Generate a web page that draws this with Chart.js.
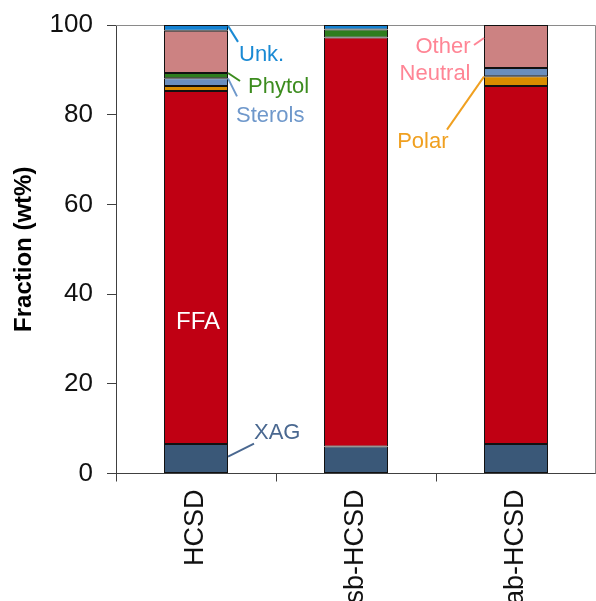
<!DOCTYPE html>
<html>
<head>
<meta charset="utf-8">
<script src="https://cdn.jsdelivr.net/npm/chart.js@4.4.1/dist/chart.umd.min.js"></script>
<style>
html, body { margin: 0; padding: 0; background: #fff; }
#wrap { width: 596px; height: 601px; }
</style>
</head>
<body>
<div id="wrap"><canvas id="fractionChart" width="596" height="601"></canvas></div>
<script>
const categories = ['HCSD', 'sb-HCSD', 'ab-HCSD'];
const xag = [6.6, 6.0, 6.6];
const ffa = [78.7, 91.2, 79.8];
const polar = [1.1, 0, 2.2];
const sterols = [1.7, 0, 1.8];
const phytol = [1.2, 1.8, 0];
const otherNeutral = [9.4, 0, 9.6];
const unknown = [1.3, 1.0, 0];
const yTicks = [0, 20, 40, 60, 80, 100];

// text callouts: attached to a bar edge (side -1 left, 0 centre, 1 right) at a value,
// lead = leader line offset in px, at = text offset from the line end in px
const callouts = [
    { text: ['Unk.'], color: '#1a8ad4', bar: 0, side: 1, value: 99.8, lead: [10, 16], at: [1, 19], align: 'left', size: 22 },
    { text: ['Phytol'], color: '#3c8c1e', bar: 0, side: 1, value: 89.3, lead: [12, 8], at: [8, 12.5], align: 'left', size: 22 },
    { text: ['Sterols'], color: '#6f98cb', bar: 0, side: 1, value: 88.1, lead: [9, 18], at: [-1, 25.5], align: 'left', size: 22 },
    { text: ['Other', 'Neutral'], color: '#ff8595', bar: 2, side: -1, value: 97.1, lead: [-10, 7], at: [-3.5, 8], align: 'right', size: 22 },
    { text: ['Polar'], color: '#f0a020', bar: 2, side: -1, value: 88.5, lead: [-37, 53], at: [1.5, 18], align: 'right', size: 22 },
    { text: ['XAG'], color: '#4a6890', bar: 0, side: 1, value: 3.75, lead: [26, -13], at: [0, -5], align: 'left', size: 22 },
    { text: ['FFA'], color: '#ffffff', bar: 0, side: 0, value: 32.2, lead: null, at: [2, 0], align: 'center', size: 24 }
];

const calloutPlugin = {
    id: 'callouts',
    afterDatasetsDraw(chart) {
        const ctx = chart.ctx;
        const yScale = chart.scales.y;
        const bars = chart.getDatasetMeta(0).data;
        ctx.save();
        ctx.textBaseline = 'alphabetic';
        callouts.forEach(c => {
            const bar = bars[c.bar];
            let x = bar.x + c.side * bar.width / 2;
            let y = yScale.getPixelForValue(c.value);
            if (c.lead) {
                ctx.strokeStyle = c.color;
                ctx.lineWidth = 2;
                ctx.beginPath();
                ctx.moveTo(x, y);
                x += c.lead[0];
                y += c.lead[1];
                ctx.lineTo(x, y);
                ctx.stroke();
            }
            ctx.font = c.size + 'px "Liberation Sans", Arial, sans-serif';
            ctx.fillStyle = c.color;
            ctx.textAlign = c.align;
            c.text.forEach((line, i) => ctx.fillText(line, x + c.at[0], y + c.at[1] + i * 27));
        });
        ctx.restore();
    }
};

const framePlugin = {
    id: 'frame',
    beforeDatasetsDraw(chart) {
        const { ctx, chartArea: a } = chart;
        ctx.save();
        ctx.strokeStyle = '#8a8a8a';
        ctx.lineWidth = 1;
        ctx.beginPath();
        ctx.moveTo(a.left, a.top + 0.5);
        ctx.lineTo(a.right - 0.5, a.top + 0.5);
        ctx.lineTo(a.right - 0.5, a.bottom);
        ctx.stroke();
        ctx.restore();
    }
};

function series(label, data, color) {
    return {
        label: label,
        data: data,
        backgroundColor: color,
        borderColor: '#111111',
        borderWidth: 1,
        borderSkipped: false,
        barPercentage: 0.4,
        categoryPercentage: 1.0
    };
}

Chart.defaults.font.family = '"Liberation Sans", Arial, sans-serif';

new Chart(document.getElementById('fractionChart').getContext('2d'), {
    type: 'bar',
    data: {
        labels: categories,
        datasets: [
            series('XAG', xag, '#3a5878'),
            series('FFA', ffa, '#c00013'),
            series('Polar', polar, '#d98c00'),
            series('Sterols', sterols, '#6a8ebe'),
            series('Phytol', phytol, '#2e7d1e'),
            series('Other Neutral', otherNeutral, '#cc8282'),
            series('Unk.', unknown, '#1482d2')
        ]
    },
    options: {
        responsive: false,
        animation: false,
        layout: { padding: { top: 25, left: 0, right: 0, bottom: 0 } },
        plugins: { legend: { display: false }, tooltip: { enabled: false } },
        scales: {
            x: {
                stacked: true,
                afterFit: s => { s.height = 127.5; s.paddingLeft = 0; s.paddingRight = 0; },
                grid: { drawOnChartArea: false, tickLength: 8, color: '#404040' },
                border: { color: '#404040' },
                ticks: { autoSkip: false, minRotation: 90, maxRotation: 90, padding: 8, color: '#111', font: { size: 27 } }
            },
            y: {
                stacked: true,
                min: 0,
                max: 100,
                afterFit: s => { s.width = 116; s.paddingTop = 0; s.paddingBottom = 0; },
                afterBuildTicks: s => { s.ticks = yTicks.map(v => ({ value: v })); },
                grid: { drawOnChartArea: false, tickLength: 9, color: '#404040' },
                border: { color: '#404040' },
                ticks: { padding: 14, color: '#111', font: { size: 26 } },
                title: {
                    display: true,
                    text: 'Fraction (wt%)',
                    color: '#000',
                    font: { size: 24, weight: 'bold' },
                    padding: { top: 10, bottom: 0 }
                }
            }
        }
    },
    plugins: [framePlugin, calloutPlugin]
});
</script>
</body>
</html>
